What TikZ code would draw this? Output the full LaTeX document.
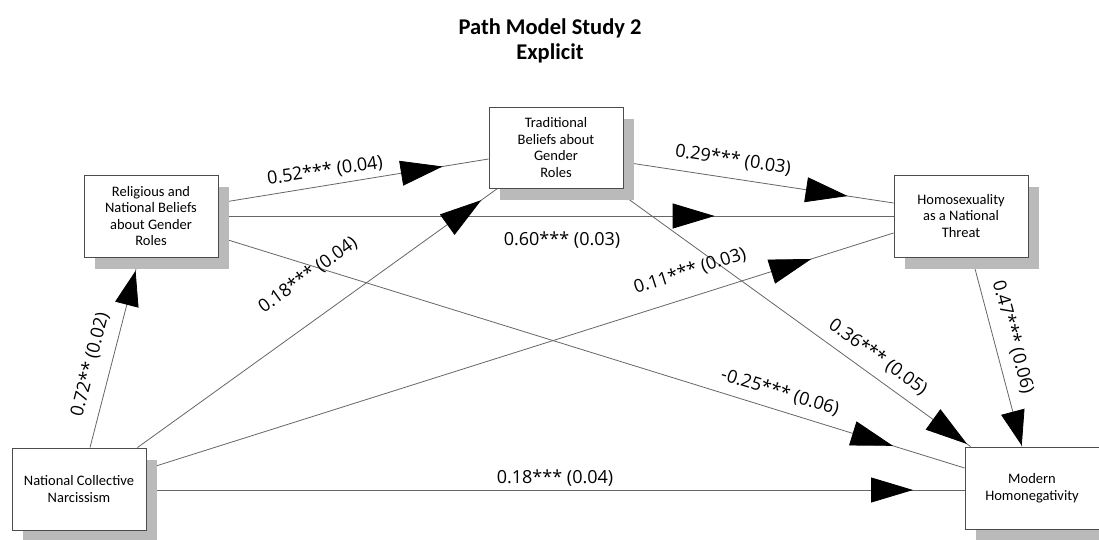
\documentclass[tikz,border=0pt]{standalone}
\usepackage{fontspec}
\setmainfont{Carlito}
\newfontfamily\lblfont{Open Sans}
\usetikzlibrary{arrows.meta,decorations.markings,calc,shadows,backgrounds}
\begin{document}
\begin{tikzpicture}[x=1pt,y=-1pt,
 box/.style={draw=black!70, line width=0.9pt, fill=white, minimum width=134pt, minimum height=82pt, align=center, inner sep=2pt, font=\fontsize{14.5}{16.5}\selectfont, drop shadow={shadow xshift=11pt, shadow yshift=-12pt, fill=black!27, opacity=1}},
 conn/.style={draw=black!60, line width=0.8pt},
 tipat/.style={postaction={decorate}, decoration={markings, mark=at position #1 with {\arrow{Triangle[length=42pt,width=25pt,color=black,fill=black]}}}},
 tipsm/.style={postaction={decorate}, decoration={markings, mark=at position #1 with {\arrow{Triangle[length=35pt,width=24pt,color=black,fill=black]}}}},
 lbl/.style={font=\lblfont\fontsize{18}{20}\selectfont, inner sep=0pt}
]
\useasboundingbox (0,0) rectangle (1099,540);
\node[font=\bfseries\fontsize{22.5}{25}\selectfont, align=center] (title) at (550,41) {Path Model Study 2\\Explicit};

\node[box] (rnb) at (151,216) {Religious and\\National Beliefs\\about Gender\\Roles};
\node[box, minimum height=81pt] (tb) at (556,147.5) {Traditional\\Beliefs about\\Gender\\Roles};
\node[box] (hnt) at (961,216) {Homosexuality\\as a National\\Threat};
\node[box] (ncn) at (79,489) {National Collective\\Narcissism};
\node[box] (mh) at (1032,488) {Modern\\Homonegativity};

\begin{pgfonlayer}{background}
\fill[white] (0,0) rectangle (1099,540);
\draw[conn,tipat=0.83] ($(rnb.east)+(0,-13)$) -- ($(tb.west)+(0,11.5)$);
\draw[conn,tipat=0.735] (rnb.east) -- (hnt.west);
\draw[conn,tipat=0.904] ($(rnb.east)+(0,21)$) -- ($(mh.west)+(0,-20)$);
\draw[conn,tipat=0.83] ($(tb.east)+(0,14.5)$) -- ($(hnt.west)+(0,-13)$);
\draw[conn,tipat=0.99] ($(tb.south east)+(0,7)$) -- ($(mh.north west)+(6,0)$);
\draw[conn,tipsm=0.995] ($(hnt.south)+(11,0)$) -- ($(mh.north)+(-10,0)$);
\draw[conn,tipsm=0.93] ($(ncn.north)+(11,0)$) -- ($(rnb.south)+(-12,0)$);
\draw[conn,tipat=0.955] ($(ncn.north east)+(-9,0)$) -- ($(tb.south west)+(9,0)$);
\draw[conn,tipat=0.89] ($(ncn.east)+(0,-20)$) -- ($(hnt.west)+(0,17)$);
\draw[conn,tipat=0.937] ($(ncn.east)+(0,1)$) -- ($(mh.west)+(0,2)$);
\end{pgfonlayer}

\node[lbl, rotate=8] (l1) at (325,171) {0.52*** (0.04)};
\node[lbl] (l2) at (562,240) {0.60*** (0.03)};
\node[lbl, rotate=-17] (l3) at (780,392) {-0.25*** (0.06)};
\node[lbl, rotate=-8.6] (l4) at (733,160) {0.29*** (0.03)};
\node[lbl, rotate=-36] (l5) at (878,357) {0.36*** (0.05)};
\node[lbl, rotate=-75] (l6) at (1013,337) {0.47*** (0.06)};
\node[lbl, rotate=75.6] (l7) at (90,365) {0.72** (0.02)};
\node[lbl, rotate=35.8] (l8) at (308,275) {0.18*** (0.04)};
\node[lbl, rotate=17.7] (l9) at (690,271) {0.11*** (0.03)};
\node[lbl] (l10) at (555,478) {0.18*** (0.04)};
\end{tikzpicture}
\end{document}
